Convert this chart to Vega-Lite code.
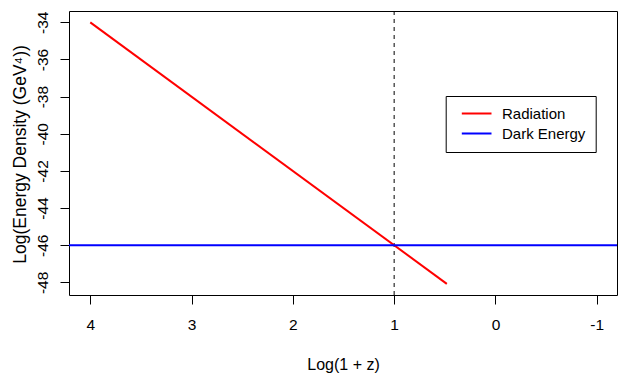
{
  "$schema": "https://vega.github.io/schema/vega-lite/v6.json",
  "autosize": "none",
  "width": 548,
  "height": 284,
  "padding": {"left": 69, "top": 11, "right": 8, "bottom": 82},
  "background": "white",
  "config": {
    "font": "Liberation Sans",
    "view": {"stroke": "black", "strokeWidth": 1},
    "axis": {
      "domain": false,
      "grid": false,
      "tickColor": "black",
      "tickSize": 9,
      "labelColor": "black",
      "titleColor": "black",
      "titleFontWeight": "normal",
      "labelFontSize": 15.5,
      "titleFontSize": 16,
      "labelOverlap": false,
      "labelFlush": false,
      "labelExpr": "'' + datum.value"
    }
  },
  "layer": [
    {
      "data": {"values": [{"logz": 1}]},
      "mark": {"type": "rule", "color": "black", "strokeWidth": 1, "strokeDash": [4, 4]},
      "encoding": {
        "x": {"field": "logz", "type": "quantitative"}
      }
    },
    {
      "data": {"values": [
        {"series": "Radiation", "logz": 4, "logrho": -34},
        {"series": "Radiation", "logz": 0.48, "logrho": -48.08},
        {"series": "Dark Energy", "logz": 4.21, "logrho": -46},
        {"series": "Dark Energy", "logz": -1.2, "logrho": -46}
      ]},
      "mark": {"type": "line", "strokeWidth": 2, "clip": true},
      "encoding": {
        "x": {
          "field": "logz",
          "type": "quantitative",
          "scale": {"domain": [4.21, -1.2], "nice": false, "zero": false},
          "axis": {
            "values": [4, 3, 2, 1, 0, -1],
            "title": "Log(1 + z)",
            "labelBaseline": "alphabetic",
            "labelPadding": 25,
            "titleBaseline": "alphabetic",
            "titleAlign": "center",
            "titleX": 274,
            "titleY": 74
          }
        },
        "y": {
          "field": "logrho",
          "type": "quantitative",
          "scale": {"domain": [-48.68, -33.39], "nice": false, "zero": false},
          "axis": {
            "values": [-48, -46, -44, -42, -40, -38, -36, -34],
            "title": "Log(Energy Density (GeV⁴))",
            "labelAngle": -90,
            "labelAlign": "center",
            "labelBaseline": "alphabetic",
            "labelPadding": 13,
            "titleAngle": -90,
            "titleFontSize": 17.5,
            "titleBaseline": "alphabetic",
            "titleAlign": "center",
            "titleX": -44,
            "titleY": 143
          }
        },
        "color": {
          "field": "series",
          "type": "nominal",
          "scale": {"domain": ["Radiation", "Dark Energy"], "range": ["#FF0000", "#0000FF"]},
          "legend": {
            "orient": "none",
            "legendX": 376.7,
            "legendY": 85,
            "title": null,
            "strokeColor": "black",
            "cornerRadius": 0,
            "fillColor": "white",
            "padding": 10,
            "symbolType": "M-0.28,0H5.66",
            "symbolSize": 100,
            "symbolStrokeWidth": 2,
            "labelOffset": 31.3,
            "labelFontSize": 15,
            "labelColor": "black",
            "rowPadding": 4
          }
        }
      }
    }
  ]
}
